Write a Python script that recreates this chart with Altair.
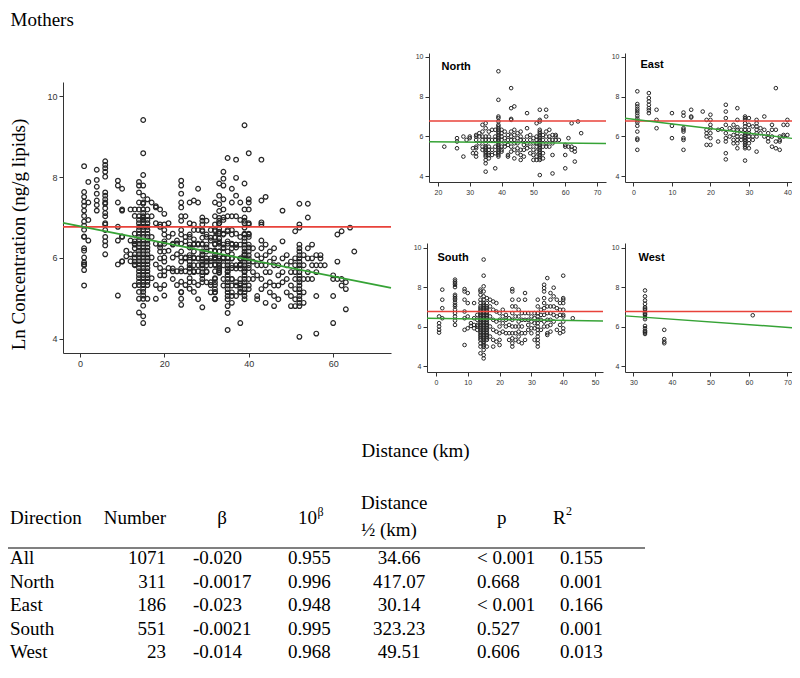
import altair as alt
import pandas as pd

SERIF = "Liberation Serif"
SANS = "Liberation Sans"
INK = "#333333"
DOT = "#262626"
RED = "#e8423a"
GREEN = "#36a336"

W, H = 784, 656

FIG_TITLE = "Mothers"
Y_TITLE = "Ln Concentration (ng/g lipids)"
X_TITLE = "Distance (km)"

# (distance km, [ln concentration values])
NORTH = [
    (22, [5.48]),
    (26, [5.91, 5.74, 5.40]),
    (28, [5.99, 4.98]),
    (29, [5.82]),
    (30, [5.99, 5.91]),
    (31, [5.40, 5.15]),
    (32, [6.07, 5.99, 5.82, 5.48, 5.40, 5.15, 4.98]),
    (33, [6.16, 5.99, 5.65]),
    (34, [6.58, 6.24, 5.99, 5.82, 5.48, 5.32]),
    (35, [6.66, 6.41, 5.99, 5.82, 5.65, 5.48, 5.40, 5.32, 5.23, 5.15, 5.06, 4.98, 4.81, 4.64, 4.22]),
    (36, [6.24, 5.99, 5.82, 5.48, 5.32, 5.15, 5.06, 4.89]),
    (37, [6.33, 5.82, 5.32, 5.06]),
    (38, [6.33, 5.99, 5.82, 5.48, 5.15, 4.39]),
    (39, [9.28, 7.84, 7.00, 6.92, 6.75, 6.58, 6.50, 6.41, 6.33, 6.24, 6.16, 6.07, 5.99, 5.91,
          5.82, 5.74, 5.65, 5.57, 5.48, 5.40, 5.32, 5.23, 5.15, 5.06, 4.98]),
    (40, [6.33, 6.16, 5.99, 5.82, 5.48, 5.32, 5.23]),
    (41, [6.24, 5.91, 5.65, 5.48]),
    (42, [6.07, 5.82, 5.57, 5.06, 4.98]),
    (43, [8.43, 7.42, 6.88, 6.83, 6.24, 5.99, 5.82, 5.48, 5.23]),
    (44, [7.51, 6.33, 6.07, 5.82, 5.65, 5.32, 4.89]),
    (45, [6.16, 5.91, 5.65, 5.40, 5.15]),
    (46, [6.24, 5.99, 5.82, 5.32, 5.06, 4.81]),
    (47, [5.82, 5.57, 5.32, 4.98]),
    (48, [7.17, 6.41, 5.99, 5.65, 5.40]),
    (49, [6.07, 5.82, 5.48, 5.15]),
    (50, [5.91, 5.65, 5.32, 5.06, 4.81]),
    (51, [6.66, 5.99, 5.82, 5.65, 5.48, 5.23, 4.98, 4.81]),
    (52, [7.34, 6.83, 6.75, 6.33, 6.24, 6.16, 6.07, 5.99, 5.91, 5.82, 5.74, 5.65, 5.57, 5.48,
          5.40, 5.32, 5.23, 5.15, 5.06, 4.98, 4.89, 4.81, 4.05]),
    (53, [6.07, 5.82, 5.48, 5.15, 4.89]),
    (54, [7.34, 7.00, 6.24, 5.99, 5.65, 5.48]),
    (55, [6.33, 5.99, 5.82, 5.48]),
    (56, [6.07, 5.82, 5.65, 5.06, 4.13]),
    (57, [6.07, 5.99, 5.82]),
    (58, [5.82]),
    (60, [5.57, 5.48, 5.06, 4.39]),
    (61, [5.91, 5.48]),
    (62, [6.66, 5.48, 5.32]),
    (63, [5.40, 5.23, 4.73]),
    (64, [6.75]),
    (65, [6.16]),
]

EAST = [
    (1, [8.27, 7.63, 7.51, 7.39, 7.29, 7.17, 7.04, 6.90, 6.80, 6.70, 6.53, 6.24, 5.89, 5.82, 5.32]),
    (4, [8.18, 7.93, 7.76, 7.59, 7.42, 7.31, 7.17]),
    (6, [7.34, 6.83, 6.41]),
    (10, [7.17, 6.53, 5.91]),
    (13, [7.20, 7.04, 6.41, 6.33, 6.24, 5.91, 5.82, 5.32]),
    (15, [7.34, 7.00, 6.95]),
    (18, [7.25]),
    (19, [6.83, 6.33, 6.16, 5.99, 5.57]),
    (20, [7.09, 6.83, 6.58, 6.41, 6.16, 5.91, 5.57]),
    (22, [6.33, 5.74]),
    (23, [6.36]),
    (24, [7.59, 7.25, 6.92, 6.58, 6.16, 5.91, 5.74, 5.15, 4.84]),
    (25, [6.41, 5.99]),
    (26, [6.58, 6.33, 6.07, 5.82, 5.65]),
    (27, [7.42, 6.83, 6.46, 6.33, 6.16, 5.99, 5.82, 5.65, 5.40]),
    (28, [6.33, 5.99, 5.82]),
    (29, [7.00, 6.92, 6.83, 6.66, 6.50, 6.33, 6.16, 6.07, 5.99, 5.91, 5.82, 5.74, 5.65, 5.57,
          5.48, 5.40, 4.78]),
    (30, [6.92, 6.58, 6.33, 6.16, 5.99, 5.82, 5.65, 5.40]),
    (31, [6.50, 5.99, 5.82]),
    (32, [6.83, 6.66, 6.50, 6.33, 6.16, 5.99, 5.23]),
    (33, [6.41, 6.16]),
    (34, [7.00, 6.33, 5.99]),
    (35, [6.16, 5.91, 5.74]),
    (36, [6.58, 6.33, 5.99, 5.48]),
    (37, [8.43, 6.33, 5.74, 5.40]),
    (38, [5.99, 5.82, 5.74, 5.32]),
    (39, [6.58, 6.07, 5.99]),
    (40, [6.83, 6.58, 6.07]),
]

SOUTH = [
    (1, [6.52, 6.18, 6.01, 5.84, 5.70]),
    (2, [7.88, 7.37, 6.94, 6.43]),
    (6, [8.39, 8.30, 8.22, 8.13, 8.01, 7.62, 7.54, 7.45, 7.37, 7.23, 7.11, 7.03, 6.86, 6.69,
         6.52, 6.31, 6.09]),
    (9, [7.91, 7.79, 7.37, 6.77, 6.43, 5.84, 5.07]),
    (10, [7.71, 7.20, 6.52, 5.92]),
    (11, [6.18, 6.04]),
    (12, [7.20, 6.43, 6.09, 5.92]),
    (13, [6.60, 6.35, 6.09, 6.01, 5.84]),
    (14, [7.88, 7.79, 7.62, 7.37, 7.20, 7.03, 6.94, 6.86, 6.77, 6.69, 6.60, 6.52, 6.43, 6.35,
          6.26, 6.18, 6.09, 6.01, 5.92, 5.84, 5.75, 5.67, 5.58, 5.50, 5.41, 5.33, 5.16, 4.99, 4.65]),
    (15, [9.41, 8.59, 8.05, 7.79, 7.54, 7.37, 7.20, 7.11, 7.03, 6.94, 6.86, 6.77, 6.69, 6.60,
          6.52, 6.43, 6.35, 6.26, 6.18, 6.09, 6.01, 5.92, 5.84, 5.75, 5.67, 5.58, 5.50, 5.41,
          5.33, 5.24, 5.16, 5.07, 4.99, 4.82, 4.56, 4.39]),
    (16, [7.45, 7.20, 7.03, 6.94, 6.86, 6.77, 6.69, 6.60, 6.52, 6.43, 6.35, 6.26, 6.18, 6.09,
          6.01, 5.92, 5.84, 5.75, 5.67, 5.58, 5.50, 5.41, 5.33, 4.99]),
    (17, [7.37, 7.03, 6.52, 6.01, 5.50]),
    (18, [7.28, 6.86, 6.35, 5.84, 5.33, 4.99]),
    (19, [7.20, 6.77, 6.26, 5.75, 5.24]),
    (20, [6.69, 6.35, 6.01, 5.67, 5.33, 5.07]),
    (21, [6.86, 6.52, 6.18, 5.75]),
    (22, [6.60, 6.35, 6.01, 5.67]),
    (23, [6.43, 6.09, 5.67, 5.33]),
    (24, [7.91, 7.79, 7.37, 7.03, 6.69, 6.35, 6.01, 5.67, 5.41, 5.16, 4.99]),
    (25, [7.03, 6.52, 6.01, 5.67, 5.33]),
    (26, [7.37, 6.86, 6.52, 6.26, 6.01, 5.75, 5.50, 5.24]),
    (27, [6.69, 6.35, 6.01, 5.67, 5.16]),
    (28, [7.71, 7.37, 6.69, 6.35, 5.67, 5.33]),
    (29, [6.69, 6.35, 6.09, 5.84]),
    (30, [6.52, 6.26, 5.92, 5.67]),
    (31, [6.69, 6.43, 6.18, 5.92, 5.33]),
    (32, [7.37, 7.03, 6.69, 6.52, 6.35, 6.18, 6.01, 5.84, 5.67, 5.50, 5.33, 5.16, 4.99]),
    (33, [6.86, 6.60, 6.35, 5.84]),
    (34, [8.13, 7.96, 7.79, 7.45, 7.20, 6.94, 6.60, 6.26, 6.01]),
    (35, [8.47, 7.03, 6.69, 6.35, 6.01, 5.67, 5.58]),
    (36, [7.71, 7.37, 7.03, 6.69, 6.35, 6.09, 5.75]),
    (37, [7.98, 7.54, 7.03, 6.60, 6.26]),
    (38, [7.37, 6.94, 6.52, 5.84]),
    (39, [7.20, 6.86, 6.60, 6.09, 5.67]),
    (40, [8.59, 7.45, 7.37, 7.20, 6.86, 6.60, 6.52, 6.26, 5.92, 5.75]),
    (43, [6.43]),
]

WEST = [
    (33, [7.84, 7.54, 7.33, 7.16, 6.99, 6.92, 6.86, 6.72, 6.65, 6.60, 6.48, 6.38, 6.04, 5.92,
          5.80, 5.75, 5.70, 5.63]),
    (38, [5.84, 5.37, 5.24, 5.16]),
    (61, [6.58]),
]

REF_LEVEL = 6.77

ALL_FIT_X = [-4.0, 73.7]
ALL_FIT_Y = [6.87, 5.26]
NORTH_FIT_X = [17.2, 72.8]
NORTH_FIT_Y = [5.73, 5.64]
EAST_FIT_X = [-2.2, 41.2]
EAST_FIT_Y = [6.91, 5.90]
SOUTH_FIT_X = [-2.8, 52.5]
SOUTH_FIT_Y = [6.43, 6.29]
WEST_FIT_X = [27.8, 71.2]
WEST_FIT_Y = [6.55, 5.95]

# table
ROWS = ["All", "North", "East", "South", "West"]
NUMBERS = ["1071", "311", "186", "551", "23"]
BETAS = ["-0.020", "-0.0017", "-0.023", "-0.0021", "-0.014"]
TEN_B = ["0.955", "0.996", "0.948", "0.995", "0.968"]
HALF_KM = ["34.66", "417.07", "30.14", "323.23", "49.51"]
P_VALUES = ["< 0.001", "0.668", "< 0.001", "0.527", "0.606"]
R_SQ = ["0.155", "0.001", "0.166", "0.001", "0.013"]


def to_df(groups):
    return pd.DataFrame([{"d": x, "c": y} for x, ys in groups for y in ys])


def xaxis(y_px, values, label_size, **extra):
    return alt.Axis(orient="bottom", offset=y_px - H, values=values, format="d", grid=False,
                    labelFont=SANS, labelFontSize=label_size, labelColor=INK,
                    labelPadding=2, labelFlush=False, labelOverlap=False,
                    tickSize=4, tickColor=INK, tickWidth=1, domainColor=INK, domainWidth=1,
                    **extra)


def yaxis(x_px, values, label_size, **extra):
    return alt.Axis(orient="left", offset=-x_px, values=values, format="d", grid=False,
                    labelFont=SANS, labelFontSize=label_size, labelColor=INK,
                    labelPadding=2, labelFlush=False, labelOverlap=False,
                    tickSize=4, tickColor=INK, tickWidth=1, domainColor=INK, domainWidth=1,
                    **extra)


def panel_label(text, tx, ty):
    return dict(title=text, titleX=tx, titleY=ty, titleAngle=0, titleAlign="left",
                titleBaseline="middle", titleFont=SANS, titleFontSize=11,
                titleFontWeight="bold", titleColor="black")


def panel(groups, fit_x, fit_y, xs, ys, xax, yax, pt_size, pt_w, line_w):
    pts = alt.Chart(to_df(groups)).mark_point(
        filled=False, color=DOT, size=pt_size, strokeWidth=pt_w, opacity=1
    ).encode(x=alt.X("d:Q", scale=xs, axis=xax), y=alt.Y("c:Q", scale=ys, axis=yax))
    ref = alt.Chart(pd.DataFrame({"d": fit_x, "c": [REF_LEVEL, REF_LEVEL]})).mark_line(
        color=RED, strokeWidth=line_w
    ).encode(x=alt.X("d:Q", scale=xs, axis=None), y=alt.Y("c:Q", scale=ys, axis=None))
    fit = alt.Chart(pd.DataFrame({"d": fit_x, "c": fit_y})).mark_line(
        color=GREEN, strokeWidth=line_w
    ).encode(x=alt.X("d:Q", scale=xs, axis=None), y=alt.Y("c:Q", scale=ys, axis=None))
    return [pts, ref, fit]


def sc(dom, rng):
    return alt.Scale(domain=dom, range=rng, nice=False, zero=False)


layers = []

# main panel (all directions)
MAIN_X = sc([-4.0, 73.7], [55, 383])
MAIN_Y = sc([3.65, 10.35], [345, 74])
layers += panel(
    NORTH + EAST + SOUTH + WEST, ALL_FIT_X, ALL_FIT_Y, MAIN_X, MAIN_Y,
    xaxis(345, [0, 20, 40, 60], 9, title=X_TITLE, titleX=407, titleY=97, titleAngle=0,
          titleAlign="center", titleBaseline="middle", titleFont=SERIF, titleFontSize=19,
          titleFontWeight="normal", titleColor="black"),
    yaxis(55, [4, 6, 8, 10], 9, title=Y_TITLE, titleX=-45, titleY=226, titleAngle=270,
          titleAlign="center", titleBaseline="middle", titleFont=SERIF, titleFontSize=19,
          titleFontWeight="normal", titleColor="black"),
    22, 1.2, 1.8)

TOP_Y = sc([3.7, 10.2], [174, 45])
BOT_Y = sc([3.7, 10.25], [364, 235])

# the figure heading is carried by the North panel's x axis title, placed at the top-left
layers += panel(NORTH, NORTH_FIT_X, NORTH_FIT_Y, sc([17.2, 72.8], [421, 598]), TOP_Y,
                xaxis(174, [20, 30, 40, 50, 60, 70], 7, title=FIG_TITLE, titleX=2,
                      titleY=17 - 174, titleAngle=0, titleAlign="left",
                      titleBaseline="alphabetic", titleFont=SERIF, titleFontSize=19,
                      titleFontWeight="normal", titleColor="black"),
                yaxis(421, [4, 6, 8, 10], 7, **panel_label("North", 12, 58)),
                13, 1, 1.4)
layers += panel(EAST, EAST_FIT_X, EAST_FIT_Y, sc([-2.2, 41.2], [617, 784]), TOP_Y,
                xaxis(174, [0, 10, 20, 30, 40], 7, title=None),
                yaxis(617, [4, 6, 8, 10], 7, **panel_label("East", 15, 56)),
                13, 1, 1.4)
layers += panel(SOUTH, SOUTH_FIT_X, SOUTH_FIT_Y, sc([-2.8, 52.5], [419, 595]), BOT_Y,
                xaxis(364, [0, 10, 20, 30, 40, 50], 7, title=None),
                yaxis(419, [4, 6, 8, 10], 7, **panel_label("South", 10, 249)),
                13, 1, 1.4)
layers += panel(WEST, WEST_FIT_X, WEST_FIT_Y, sc([27.8, 71.2], [617, 784]), BOT_Y,
                xaxis(364, [30, 40, 50, 60, 70], 7, title=None),
                yaxis(617, [4, 6, 8, 10], 7, **panel_label("West", 13, 249)),
                13, 1, 1.4)

# table
tbl = pd.DataFrame({"row": ROWS, "num": NUMBERS, "beta": BETAS, "tenb": TEN_B,
                    "half": HALF_KM, "p": P_VALUES, "r2": R_SQ})
ROW_Y = alt.Scale(type="point", domain=ROWS, range=[556, 650], padding=0)


def col(field, x_px, align):
    return alt.Chart(tbl).mark_text(font=SERIF, fontSize=19, align=align,
                                    baseline="alphabetic", color="black").encode(
        x=alt.value(x_px), y=alt.Y("row:N", scale=ROW_Y, axis=None), text=f"{field}:N")


def head(label, x_px, y_px, align="left", size=19):
    return alt.Chart(pd.DataFrame({"label": [label]})).mark_text(
        font=SERIF, fontSize=size, align=align, baseline="alphabetic", color="black"
    ).encode(x=alt.value(x_px), y=alt.value(y_px), text="label:N")


layers += [
    head("Direction", 2, 516),
    head("Number", 158, 516, "right"),
    head("β", 214, 516, "center"),
    head("10", 290, 516),
    head("β", 309.5, 508, size=12),
    head("Distance", 353, 501),
    head("½ (km)", 353, 528),
    head("p", 489, 516),
    head("R", 545, 516),
    head("2", 558, 507, size=12),
    alt.Chart(pd.DataFrame({"k": [0]})).mark_rule(color="#808080", strokeWidth=2).encode(
        x=alt.value(0), x2=alt.value(637), y=alt.value(540)),
    col("row", 2, "left"),
    col("num", 158, "right"),
    col("beta", 185, "left"),
    col("tenb", 280, "left"),
    col("half", 391, "center"),
    col("p", 469, "left"),
    col("r2", 552, "left"),
]

chart = alt.layer(*layers).resolve_scale(x="independent", y="independent").properties(
    width=W, height=H, padding=0,
    autosize=alt.AutoSizeParams(type="none"),
).configure_view(stroke=None)

chart.save("out.html", embed_options={"renderer": "svg", "actions": False})
